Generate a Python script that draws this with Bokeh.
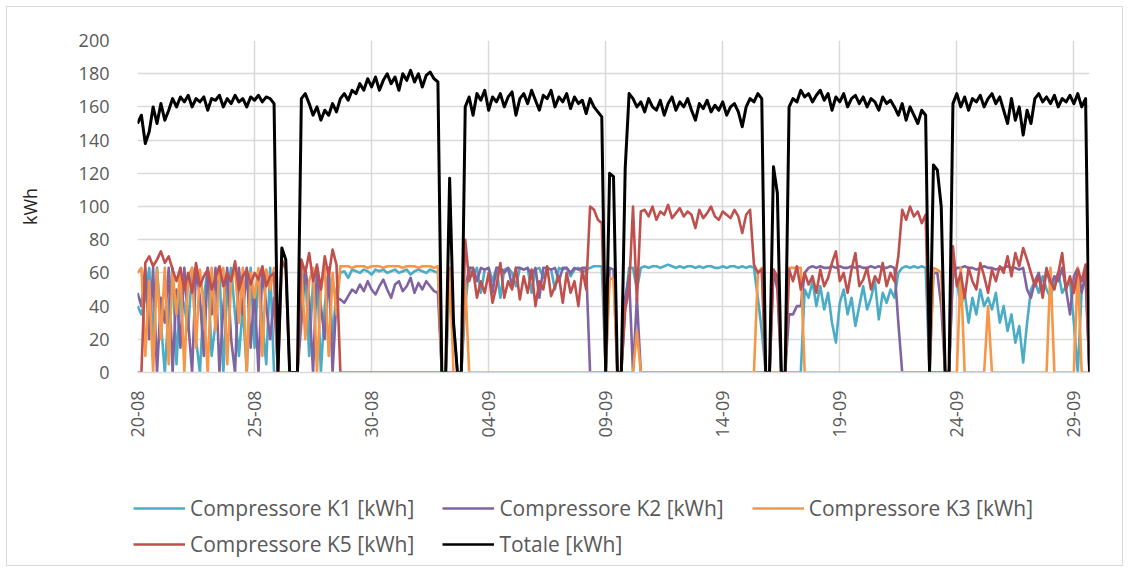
import numpy as np
from bokeh.plotting import figure
from bokeh.layouts import column
from bokeh.models import Range1d, FixedTicker, Legend
from bokeh.embed import file_html
from bokeh.resources import INLINE

# ---------------- data (one line per day, 4-hour samples, start 20-08 00:00) ----------------
step_days = 4 / 24
tick_days = [0, 5, 10, 15, 20, 25, 30, 35, 40]
tick_labels = ["20-08", "25-08", "30-08", "04-09", "09-09", "14-09", "19-09", "24-09", "29-09"]
y_ticks = [0, 20, 40, 60, 80, 100, 120, 140, 160, 180, 200]
series_names = ["Compressore K1 [kWh]", "Compressore K2 [kWh]", "Compressore K3 [kWh]",
                "Compressore K5 [kWh]", "Totale [kWh]"]

k1 = [
    40, 35, 45, 63, 20, 63,
    30, 0, 40, 63, 5, 50,
    40, 25, 63, 20, 0, 45,
    63, 10, 30, 63, 0, 50,
    63, 35, 10, 40, 0, 63,
    15, 60, 30, 5, 63, 0,
    0, 0, 0, 0, 0, 0,
    45, 63, 10, 55, 63, 0,
    40, 63, 20, 50, 60, 61,
    57, 62, 61, 60, 62, 61,
    59, 62, 61, 62, 60, 61,
    62, 60, 61, 62, 59, 61,
    62, 61, 60, 62, 61, 60,
    0, 0, 54, 30, 0, 0,
    40, 63, 58, 63, 48, 62,
    63, 55, 63, 45, 62, 63,
    60, 52, 63, 62, 63, 48,
    62, 63, 57, 63, 62, 50,
    63, 62, 63, 58, 62, 63,
    60, 62, 63, 64, 64, 64,
    0, 0, 0, 0, 0, 40,
    63, 63, 50, 63, 64, 63,
    64, 64, 63, 64, 65, 64,
    63, 64, 63, 64, 64, 63,
    64, 63, 64, 64, 63, 63,
    64, 63, 64, 64, 63, 64,
    63, 64, 63, 45, 25, 0,
    0, 0, 0, 0, 0, 0,
    0, 0, 0, 50, 45, 55,
    40, 52, 38, 48, 30, 18,
    42, 50, 35, 45, 28, 40,
    52, 38, 45, 55, 32, 48,
    42, 50, 45, 60, 63, 64,
    63, 64, 63, 64, 63, 0,
    0, 0, 0, 0, 0, 63,
    55, 40, 48, 30, 45, 35,
    50, 40, 45, 38, 48, 30,
    40, 25, 35, 18, 28, 6,
    30, 50, 55, 48, 58, 50,
    45, 55, 60, 48, 52, 55,
    30, 0, 50, 55, 0,
]

k2 = [
    48, 40, 63, 20, 63, 0,
    45, 30, 63, 0, 50, 15,
    63, 30, 0, 63, 45, 10,
    63, 35, 63, 0, 40, 63,
    20, 0, 63, 35, 63, 15,
    50, 0, 63, 40, 20, 45,
    0, 0, 0, 0, 0, 0,
    30, 63, 45, 0, 63, 40,
    20, 63, 0, 45, 44, 42,
    46, 50, 48, 53, 49, 55,
    50, 47, 52, 56, 50, 45,
    53, 55, 49, 52, 57, 48,
    54, 50, 55, 52, 49, 48,
    0, 0, 0, 0, 0, 0,
    50, 63, 63, 55, 63, 62,
    63, 48, 63, 63, 60, 63,
    52, 63, 63, 62, 63, 58,
    63, 45, 63, 63, 62, 63,
    55, 63, 63, 60, 63, 62,
    63, 63, 0, 0, 0, 0,
    0, 63, 62, 0, 0, 45,
    58, 0, 45, 0, 0, 0,
    0, 0, 0, 0, 0, 0,
    0, 0, 0, 0, 0, 0,
    0, 0, 0, 0, 0, 0,
    0, 0, 0, 0, 0, 0,
    0, 0, 0, 0, 0, 0,
    0, 62, 50, 0, 0, 35,
    35, 40, 40, 60, 63, 64,
    63, 64, 63, 63, 64, 63,
    64, 63, 63, 64, 63, 64,
    63, 63, 64, 63, 64, 63,
    63, 64, 63, 30, 0, 0,
    0, 0, 0, 0, 0, 0,
    60, 60, 40, 0, 0, 60,
    63, 63, 64, 63, 63, 62,
    63, 64, 63, 63, 62, 63,
    63, 64, 63, 63, 62, 63,
    50, 45, 55, 60, 48, 63,
    52, 58, 55, 63, 50, 35,
    58, 63, 48, 60, 0,
]

k3 = [
    60, 63, 10, 55, 0, 62,
    20, 63, 5, 60, 35, 63,
    0, 58, 63, 15, 62, 40,
    0, 63, 25, 60, 63, 5,
    55, 63, 30, 63, 0, 60,
    45, 63, 10, 62, 50, 63,
    0, 0, 0, 0, 0, 0,
    63, 20, 55, 63, 0, 50,
    63, 10, 60, 35, 64, 64,
    64, 63, 64, 64, 64, 63,
    64, 64, 64, 63, 64, 64,
    64, 64, 63, 64, 64, 64,
    63, 64, 64, 64, 63, 64,
    0, 0, 63, 0, 0, 0,
    55, 0, 0, 0, 0, 0,
    0, 0, 0, 0, 0, 0,
    0, 0, 0, 0, 0, 0,
    0, 0, 0, 0, 0, 0,
    0, 0, 0, 0, 0, 0,
    0, 0, 0, 0, 0, 0,
    0, 57, 56, 0, 0, 0,
    0, 0, 25, 0, 0, 0,
    0, 0, 0, 0, 0, 0,
    0, 0, 0, 0, 0, 0,
    0, 0, 0, 0, 0, 0,
    0, 0, 0, 0, 0, 0,
    0, 0, 0, 60, 63, 0,
    0, 0, 0, 0, 0, 63,
    63, 63, 63, 0, 0, 0,
    0, 0, 0, 0, 0, 0,
    0, 0, 0, 0, 0, 0,
    0, 0, 0, 0, 0, 0,
    0, 0, 0, 0, 0, 0,
    0, 0, 0, 0, 0, 0,
    63, 62, 60, 0, 0, 0,
    0, 63, 0, 0, 0, 0,
    0, 0, 40, 0, 0, 0,
    0, 0, 0, 0, 0, 0,
    0, 0, 0, 0, 0, 0,
    63, 0, 0, 0, 0, 0,
    0, 63, 0, 0, 0,
]

k5 = [
    0, 0, 66, 70, 64, 68,
    73, 66, 70, 62, 55, 63,
    50, 60, 48, 66, 52, 58,
    62, 50, 57, 64, 52, 60,
    55, 67, 50, 58, 62, 53,
    60, 56, 64, 52, 58, 60,
    0, 68, 62, 0, 0, 0,
    68, 60, 72, 55, 65, 50,
    70, 58, 74, 65, 0, 0,
    0, 0, 0, 0, 0, 0,
    0, 0, 0, 0, 0, 0,
    0, 0, 0, 0, 0, 0,
    0, 0, 0, 0, 0, 0,
    0, 0, 0, 0, 0, 0,
    80, 55, 62, 45, 55, 48,
    60, 42, 52, 66, 45, 55,
    50, 63, 44, 58, 48, 62,
    40, 55, 50, 64, 46, 52,
    58, 42, 60, 48, 55, 40,
    62, 50, 100, 98, 92, 90,
    0, 0, 0, 0, 0, 38,
    50, 100, 43, 97, 98, 94,
    100, 92, 97, 95, 101, 93,
    96, 99, 94, 97, 95, 87,
    98, 93, 96, 100, 94, 92,
    97, 95, 93, 98, 94, 84,
    95, 98, 65, 60, 62, 0,
    0, 62, 58, 0, 0, 62,
    55, 64, 50, 60, 53, 58,
    48, 62, 52, 57, 66, 73,
    55, 60, 48, 62, 72, 52,
    56, 63, 50, 58, 54, 66,
    52, 60, 55, 70, 98, 92,
    100, 94, 97, 90, 95, 0,
    0, 0, 0, 0, 0, 76,
    52, 60, 45, 63, 55, 50,
    66, 58, 48, 62, 55, 64,
    60, 70, 58, 72, 64, 75,
    68, 60, 52, 58, 45, 62,
    55, 50, 60, 72, 50, 58,
    48, 62, 55, 65, 0,
]

totale = [
    150, 155, 138, 145, 160, 150,
    162, 152, 158, 165, 160, 166,
    163, 167, 160, 165, 163, 166,
    158, 165, 164, 167, 160, 165,
    162, 167, 163, 165, 160, 166,
    164, 167, 163, 166, 165, 162,
    0, 75, 68, 0, 0, 0,
    165, 168, 162, 155, 160, 152,
    158, 155, 162, 157, 165, 168,
    164, 170, 168, 174, 170, 177,
    172, 178, 170, 176, 180, 174,
    178, 170, 180, 176, 182, 175,
    180, 172, 179, 181, 177, 175,
    0, 0, 117, 30, 0, 0,
    160, 166, 155, 168, 164, 170,
    158, 166, 163, 168, 160, 166,
    169, 155, 165, 168, 162, 170,
    164, 158, 167, 165, 170, 160,
    166, 163, 168, 159, 166, 162,
    164, 156, 165, 160, 157, 154,
    0, 120, 118, 0, 0, 123,
    168, 165, 160, 163, 157, 165,
    160, 158, 164, 155, 162, 166,
    158, 163, 160, 165, 158, 152,
    162, 159, 164, 157, 161, 158,
    163, 155, 160, 162, 157, 148,
    160, 165, 163, 168, 165, 0,
    0, 124, 108, 0, 0, 160,
    165, 163, 170, 166, 168, 163,
    167, 170, 164, 168, 158, 166,
    163, 168, 160, 165, 167, 162,
    166, 160, 165, 163, 158, 166,
    162, 164, 160, 155, 162, 152,
    160, 155, 150, 158, 155, 0,
    125, 122, 100, 0, 0, 162,
    168, 160, 166, 158, 165, 163,
    167, 160, 165, 168, 162, 166,
    158, 150, 165, 152, 160, 143,
    158, 150, 165, 168, 163, 166,
    162, 167, 160, 165, 163, 167,
    162, 168, 160, 165, 0,
]

# ---------------- styling ----------------
font = "Open Sans"
grid_color = "#d9d9d9"
text_grey = "#595959"
colors = ["#4BACC6", "#8064A2", "#F79646", "#C0504D", "#000000"]
widths = [2.6, 2.6, 2.6, 2.6, 3.0]

# ---------------- main chart ----------------
days = np.arange(len(totale)) * step_days

p = figure(width=1129, height=452, output_backend="svg", toolbar_location=None,
           x_range=Range1d(0, days[-1]), y_range=Range1d(0, 200),
           min_border_left=137, min_border_right=40, min_border_top=40, min_border_bottom=80)
p.outline_line_color = None
p.background_fill_color = None
p.border_fill_color = None

p.xgrid.grid_line_color = grid_color
p.ygrid.grid_line_color = grid_color
p.xgrid.grid_line_width = 1.5
p.ygrid.grid_line_width = 1.5

p.xaxis.ticker = FixedTicker(ticks=tick_days)
p.xaxis.major_label_overrides = {d: s for d, s in zip(tick_days, tick_labels)}
p.xaxis.major_label_orientation = np.pi / 2
p.yaxis.ticker = FixedTicker(ticks=y_ticks)

for ax in (p.xaxis[0], p.yaxis[0]):
    ax.major_tick_line_color = None
    ax.minor_tick_line_color = None
    ax.major_label_text_font = font
    ax.major_label_text_font_size = "18px"
    ax.major_label_text_color = text_grey
p.xaxis.axis_line_color = grid_color
p.xaxis.axis_line_width = 1.5
p.yaxis.axis_line_color = None
p.xaxis.major_label_standoff = 12
p.yaxis.major_label_standoff = 22
p.yaxis.axis_label = "kWh"
p.yaxis.axis_label_text_font = font
p.yaxis.axis_label_text_font_style = "normal"
p.yaxis.axis_label_text_font_size = "18px"
p.yaxis.axis_label_text_color = "#262626"
p.yaxis.axis_label_standoff = 34

for ys, c, w in zip([k1, k2, k3, k5, totale], colors, widths):
    p.line(days, ys, line_color=c, line_width=w, line_join="round")

# ---------------- legend strip (proxy lines holding no visible point) ----------------
q = figure(width=1129, height=120, output_backend="svg", toolbar_location=None,
           x_range=Range1d(0, 1), y_range=Range1d(0, 1),
           min_border_left=0, min_border_right=0, min_border_top=0, min_border_bottom=0)
q.axis.visible = False
q.grid.visible = False
q.outline_line_color = None
q.background_fill_color = None
q.border_fill_color = None

legend_x = 133
try:
    q.frame_align = False
except Exception:
    legend_x = -4

proxies = []
for c in colors:
    proxies.append(q.line(x=[float("nan")], y=[float("nan")], line_color=c, line_width=2.6))

def make_legend(idx, vy):
    lg = Legend(items=[(series_names[i], [proxies[i]]) for i in idx],
                orientation="horizontal", location=(legend_x, vy))
    lg.label_text_font = font
    lg.label_text_font_size = "21px"
    lg.label_text_color = text_grey
    lg.glyph_width = 52
    lg.glyph_height = 20
    lg.label_height = 20
    lg.label_standoff = 5
    lg.spacing = 28
    lg.padding = 0
    lg.margin = 0
    lg.border_line_color = None
    lg.background_fill_alpha = 0
    return lg

q.add_layout(make_legend([0, 1, 2], 50))
q.add_layout(make_legend([3, 4], 14))

layout = column(p, q, spacing=0,
                styles={"outline": "1.5px solid #d9d9d9", "outline-offset": "-7px",
                        "background-color": "white"})

open("out.html", "w").write(file_html(layout, INLINE))
